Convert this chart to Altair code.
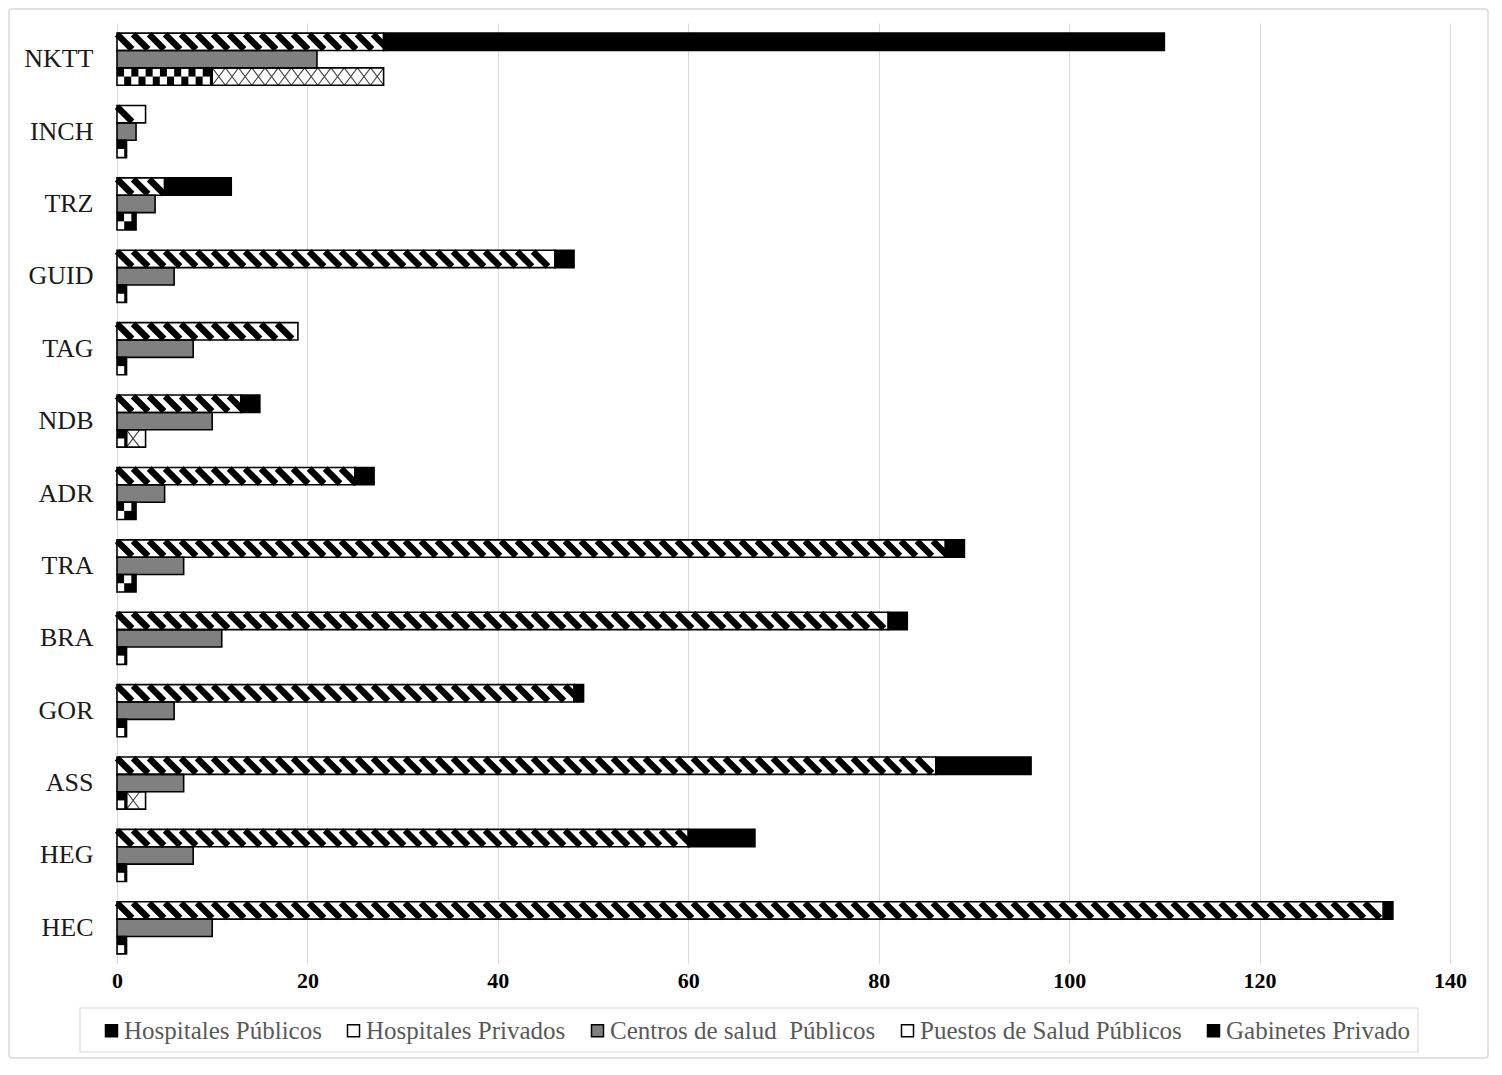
import altair as alt
import pandas as pd

# ---------------- data ----------------
categories = ["NKTT", "INCH", "TRZ", "GUID", "TAG", "NDB", "ADR",
              "TRA", "BRA", "GOR", "ASS", "HEG", "HEC"]
hospitales_publicos = [10, 1, 2, 1, 1, 1, 2, 2, 1, 1, 1, 1, 1]
hospitales_privados = [18, 0, 0, 0, 0, 2, 0, 0, 0, 0, 2, 0, 0]
centros_salud = [21, 2, 4, 6, 8, 10, 5, 7, 11, 6, 7, 8, 10]
puestos_salud = [28, 3, 5, 46, 19, 13, 25, 87, 81, 48, 86, 60, 133]
gabinetes = [82, 0, 7, 2, 0, 2, 2, 2, 2, 1, 10, 7, 1]

series_names = ["Hospitales Públicos", "Hospitales Privados",
                "Centros de salud\u00a0 Públicos", "Puestos de Salud Públicos",
                "Gabinetes Privado"]
series_colors = ["#000000", "#ffffff", "#808080", "#ffffff", "#000000"]
x_ticks = [0, 20, 40, 60, 80, 100, 120, 140]
rows = ["a", "b", "c"]  # a: puestos+gabinetes, b: centros, c: hospitales

# ---------------- bar segments ----------------
seg = []
for i, c in enumerate(categories):
    p, g = puestos_salud[i], gabinetes[i]
    seg.append(dict(cat=c, row="a", series=series_names[3], x0=0, x1=p))
    if g > 0:
        seg.append(dict(cat=c, row="a", series=series_names[4], x0=p, x1=p + g))
    seg.append(dict(cat=c, row="b", series=series_names[2], x0=0, x1=centros_salud[i]))
    h, hp = hospitales_publicos[i], hospitales_privados[i]
    seg.append(dict(cat=c, row="c", series=series_names[0], x0=0, x1=h))
    if hp > 0:
        seg.append(dict(cat=c, row="c", series=series_names[1], x0=h, x1=h + hp))
seg_df = pd.DataFrame(seg)

# fill patterns derived from the segments
stripes = []
for c, p, g in zip(categories, puestos_salud, gabinetes):
    limit = p - 0.8 + min(g, 0.8)
    pos = 0.8
    while pos <= limit + 1e-9:
        stripes.append(dict(cat=c, row="a", x0=pos))
        pos += 1.68
stripes_df = pd.DataFrame(stripes)

cell = 0.75
checker = []
for c, h in zip(categories, hospitales_publicos):
    k = 0
    while (k + 1) * cell <= h + 0.05:
        checker.append(dict(cat=c, row="c", x0=(k + 0.5) * cell,
                            half="bottom" if k % 2 == 0 else "top"))
        k += 1
checker_df = pd.DataFrame(checker)

xw = 1.386
cross = []
for c, h, hp in zip(categories, hospitales_publicos, hospitales_privados):
    k = 0
    while hp > 0 and (k + 1) * xw <= hp + 0.05:
        cross.append(dict(cat=c, row="c", x0=h + (k + 0.5) * xw))
        k += 1
cross_df = pd.DataFrame(cross)

FONT = "Liberation Serif"

y_scale = alt.Scale(domain=categories, paddingInner=0.28, paddingOuter=0.14)
yo_scale = alt.Scale(domain=rows, paddingInner=0, paddingOuter=0)
x_scale = alt.Scale(domain=[0, 140], nice=False, zero=True)

y_axis = alt.Axis(title=None, ticks=False, domain=False, labelFont=FONT,
                  labelFontSize=26, labelColor="#1a1a1a", labelPadding=24)
x_axis = alt.Axis(title=None, values=x_ticks, ticks=False, domain=False,
                  labelFont=FONT, labelFontSize=22, labelFontWeight="bold",
                  labelColor="#000000", labelPadding=6, labelFlush=False,
                  grid=True, gridColor="#d9d9d9", gridWidth=1)


def enc_y():
    return alt.Y("cat:N", sort=categories, scale=y_scale, axis=y_axis)


def enc_yo():
    return alt.YOffset("row:N", scale=yo_scale)


def enc_x():
    return alt.X("x0:Q", scale=x_scale, axis=x_axis)


bars = alt.Chart(seg_df).mark_bar(strokeWidth=0).encode(
    y=enc_y(), yOffset=enc_yo(), x=enc_x(), x2="x1:Q",
    fill=alt.Fill("series:N",
                  scale=alt.Scale(domain=series_names, range=series_colors),
                  legend=alt.Legend(orient="none", legendX=-18, legendY=995,
                                    direction="horizontal", title=None,
                                    symbolType="square", symbolSize=144,
                                    symbolStrokeColor="#000000",
                                    symbolStrokeWidth=1.5,
                                    labelFont=FONT, labelFontSize=25,
                                    labelColor="#595959", labelOffset=0,
                                    labelLimit=500,
                                    columnPadding=19, padding=0)),
)

stripe_layer = alt.Chart(stripes_df).mark_point(
    shape="M-1,-1L1,1", filled=False, stroke="#000000", strokeWidth=6.5,
    size=225, opacity=1,
).encode(y=enc_y(), yOffset=enc_yo(), x=enc_x())

checker_layer = alt.Chart(checker_df).mark_point(
    filled=True, fill="#ffffff", strokeWidth=0, size=300, opacity=1,
).encode(
    y=enc_y(), yOffset=enc_yo(), x=enc_x(),
    shape=alt.Shape("half:N", scale=alt.Scale(
        domain=["top", "bottom"],
        range=["M-0.42,-1L0.42,-1L0.42,0L-0.42,0Z",
               "M-0.42,0L0.42,0L0.42,1L-0.42,1Z"]), legend=None),
)

cross_layer = alt.Chart(cross_df).mark_point(
    shape="M-0.76,-1L0.76,1M-0.76,1L0.76,-1", filled=False,
    stroke="#404040", strokeWidth=1.1, size=300, opacity=1,
).encode(y=enc_y(), yOffset=enc_yo(), x=enc_x())

outline = alt.Chart(seg_df).mark_bar(
    fillOpacity=0, stroke="#000000", strokeWidth=1.6,
).encode(y=enc_y(), yOffset=enc_yo(), x=enc_x(), x2="x1:Q")

deco_df = pd.DataFrame({"k": [0]})
frame = alt.Chart(deco_df).mark_rect(
    fillOpacity=0, stroke="#d9d9d9", strokeWidth=1.5, cornerRadius=3,
).encode(x=alt.value(-108), x2=alt.value(1371), y=alt.value(-14), y2=alt.value(1035))

legend_box = alt.Chart(deco_df).mark_rect(
    fillOpacity=0, stroke="#d9d9d9", strokeWidth=1.2,
).encode(x=alt.value(-37), x2=alt.value(1301), y=alt.value(985), y2=alt.value(1029))

chart = alt.layer(
    bars, stripe_layer, checker_layer, cross_layer, outline, frame, legend_box
).properties(
    width=1333, height=941,
    autosize=alt.AutoSizeParams(type="none"),
    padding={"left": 109, "top": 15, "right": 40, "bottom": 96},
    background="#ffffff",
).configure_view(strokeWidth=0)

chart.save("out.html", embed_options={"renderer": "svg", "actions": False})
